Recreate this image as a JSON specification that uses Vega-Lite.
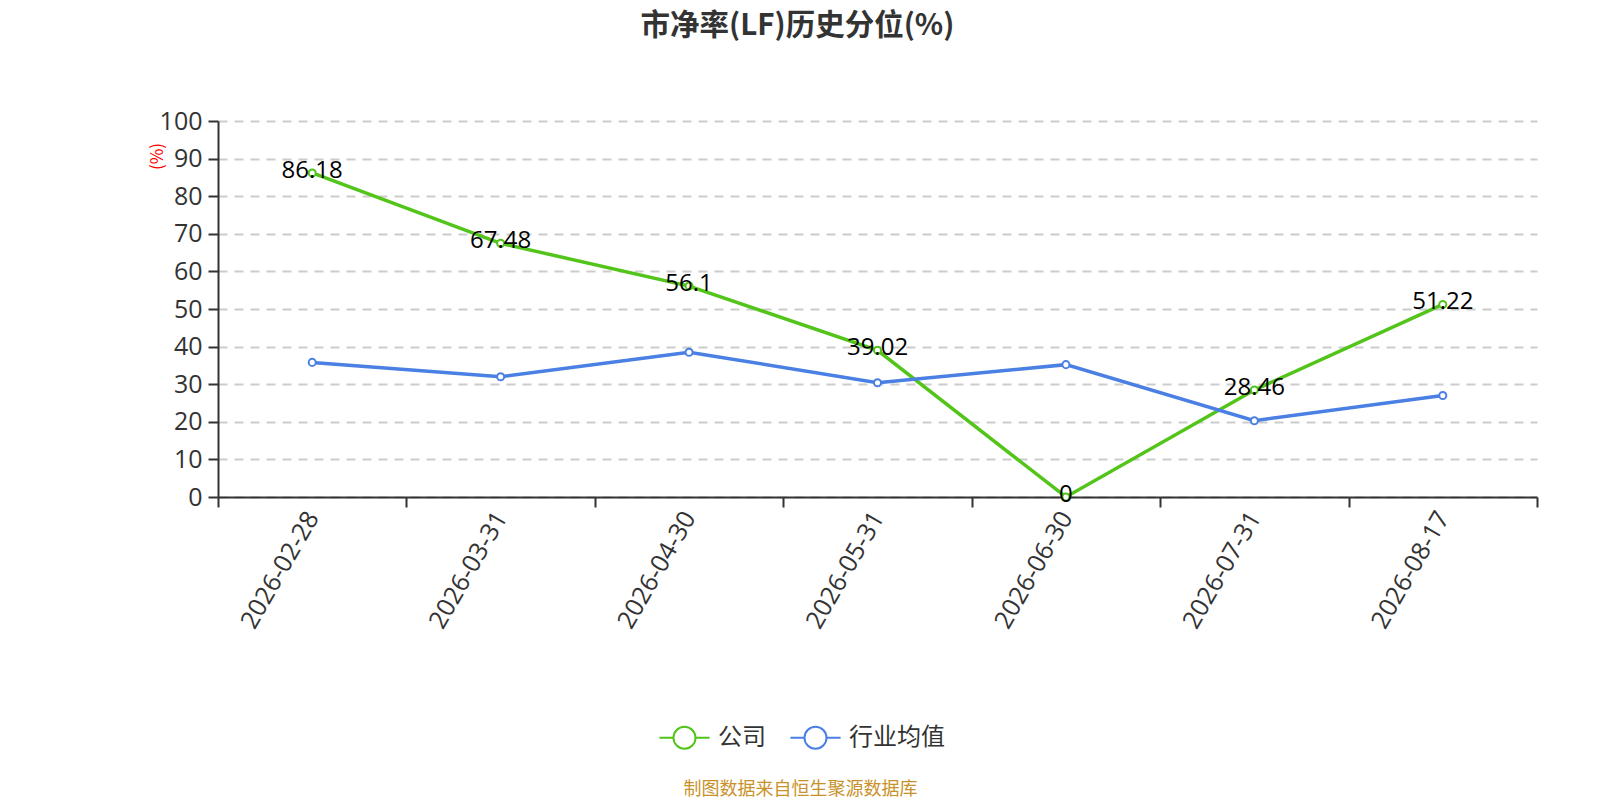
{
  "$schema": "https://vega.github.io/schema/vega-lite/v6.json",
  "autosize": {"type": "none"},
  "width": 1319,
  "height": 376,
  "padding": {"left": 218, "top": 121, "right": 63, "bottom": 303},
  "background": "white",
  "title": {
    "text": "市净率(LF)历史分位(%)",
    "fontSize": 29.5,
    "fontWeight": "bold",
    "color": "#333333",
    "font": "Noto Sans CJK SC",
    "anchor": "middle",
    "frame": "group",
    "dx": -80,
    "offset": 68
  },
  "data": {
    "values": [
      {"date": "2026-02-28", "series": "公司", "value": 86.18},
      {"date": "2026-03-31", "series": "公司", "value": 67.48},
      {"date": "2026-04-30", "series": "公司", "value": 56.1},
      {"date": "2026-05-31", "series": "公司", "value": 39.02},
      {"date": "2026-06-30", "series": "公司", "value": 0},
      {"date": "2026-07-31", "series": "公司", "value": 28.46},
      {"date": "2026-08-17", "series": "公司", "value": 51.22},
      {"date": "2026-02-28", "series": "行业均值", "value": 35.8},
      {"date": "2026-03-31", "series": "行业均值", "value": 32.0},
      {"date": "2026-04-30", "series": "行业均值", "value": 38.5},
      {"date": "2026-05-31", "series": "行业均值", "value": 30.4},
      {"date": "2026-06-30", "series": "行业均值", "value": 35.2},
      {"date": "2026-07-31", "series": "行业均值", "value": 20.3},
      {"date": "2026-08-17", "series": "行业均值", "value": 27.0}
    ]
  },
  "encoding": {
    "x": {
      "field": "date",
      "type": "ordinal",
      "scale": {"type": "band", "paddingInner": 0, "paddingOuter": 0},
      "axis": {
        "labelAngle": -60,
        "labelFont": "Open Sans",
        "labelFontSize": 25,
        "labelColor": "#333333",
        "labelPadding": 6,
        "tickBand": "extent",
        "tickSize": 10,
        "tickColor": "#333333",
        "domainColor": "#333333",
        "domainWidth": 2,
        "tickWidth": 2,
        "grid": false,
        "title": "制图数据来自恒生聚源数据库",
        "titleFontSize": 18,
        "titleFontWeight": "normal",
        "titleColor": "#c8922a",
        "titleX": 582,
        "titleY": 292,
        "titleAlign": "center",
        "titleBaseline": "middle"
      }
    },
    "y": {
      "field": "value",
      "type": "quantitative",
      "scale": {"domain": [0, 100], "nice": false},
      "axis": {
        "values": [0, 10, 20, 30, 40, 50, 60, 70, 80, 90, 100],
        "labelFont": "Open Sans",
        "labelFontSize": 25,
        "labelColor": "#333333",
        "labelPadding": 6,
        "tickSize": 10,
        "tickColor": "#333333",
        "tickWidth": 2,
        "domainColor": "#333333",
        "domainWidth": 2,
        "grid": true,
        "gridColor": "#cccccc",
        "gridDash": [9, 7],
        "gridWidth": 2,
        "title": "(%)",
        "titleColor": "red",
        "titleFontSize": 17,
        "titleFontWeight": "normal",
        "titleX": -61,
        "titleY": 35,
        "titleAlign": "center",
        "titleBaseline": "middle"
      }
    }
  },
  "layer": [
    {
      "mark": {"type": "line", "strokeWidth": 3.5},
      "encoding": {
        "color": {
          "field": "series",
          "type": "nominal",
          "scale": {"domain": ["公司", "行业均值"], "range": ["#52c41a", "#4a7fe3"]},
          "legend": {
            "title": null,
            "orient": "none",
            "direction": "horizontal",
            "legendX": 453,
            "legendY": 603,
            "padding": 0,
            "symbolType": "M-2.05,0L-0.9,0M0.9,0L2.05,0M0.9,0A0.9,0.9,0,1,1,-0.9,0A0.9,0.9,0,1,1,0.9,0",
            "symbolSize": 600,
            "symbolStrokeWidth": 2,
            "labelFontSize": 24,
            "labelColor": "#333333",
            "labelOffset": 20,
            "columnPadding": 20,
            "encode": {"symbols": {"update": {"fill": {"value": "white"}}}}
          }
        }
      }
    },
    {
      "mark": {"type": "point", "shape": "circle", "filled": true, "fill": "white", "size": 50, "strokeWidth": 2, "opacity": 1},
      "encoding": {
        "stroke": {"field": "series", "type": "nominal", "scale": {"domain": ["公司", "行业均值"], "range": ["#52c41a", "#4a7fe3"]}, "legend": null}
      }
    },
    {
      "transform": [{"filter": "datum.series === '公司'"}],
      "mark": {"type": "text", "font": "Open Sans", "fontSize": 24, "color": "black", "baseline": "middle", "align": "center", "dy": -2},
      "encoding": {
        "text": {"field": "value", "type": "quantitative"}
      }
    }
  ],
  "config": {
    "font": "Noto Sans CJK SC",
    "view": {"stroke": null}
  }
}
